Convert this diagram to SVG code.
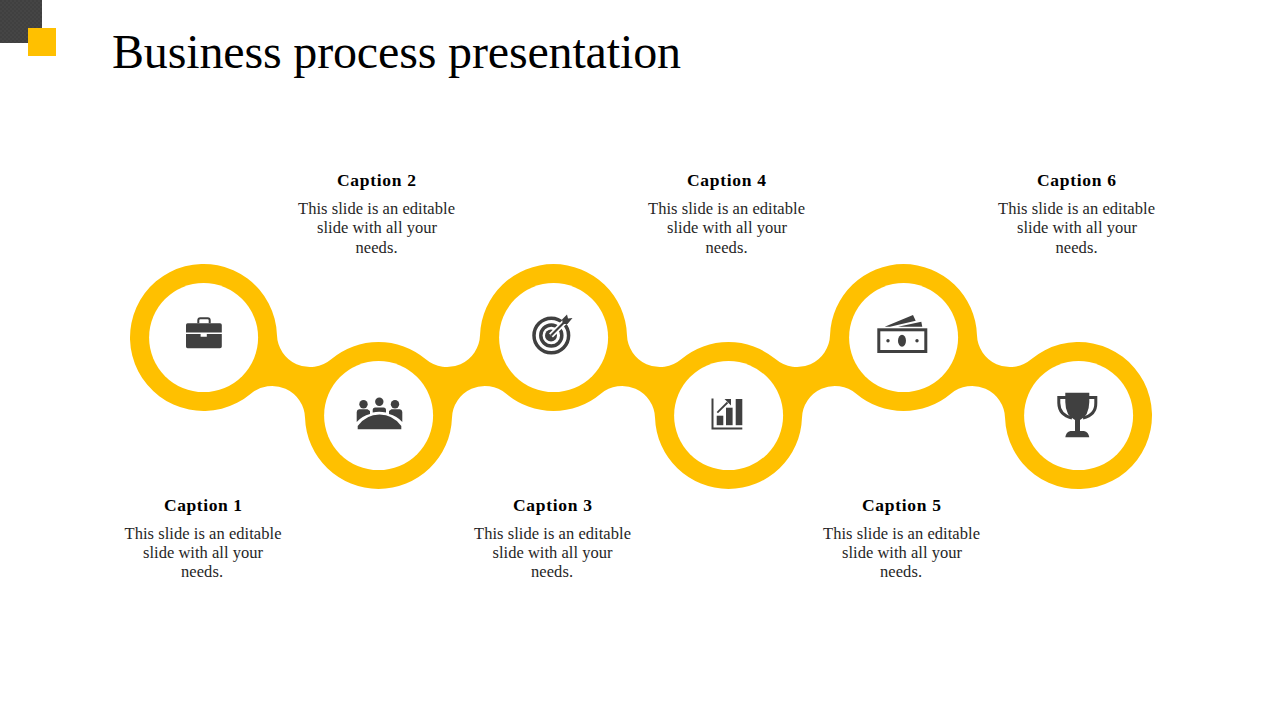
<svg xmlns="http://www.w3.org/2000/svg" width="1280" height="720" viewBox="0 0 1280 720">
<style>
text{font-family:"Liberation Serif","DejaVu Serif",serif;fill:#000;text-anchor:middle}
.t{font-size:48px;text-anchor:start}
.c{font-size:17.5px;font-weight:bold}
.b{font-size:16.5px;fill:#262626}
.w{fill:#fff}
.i{fill:#404040}
.s{fill:none;stroke:#404040}
</style>
<defs>
<pattern id="tex" width="4" height="4" patternUnits="userSpaceOnUse"><rect width="4" height="4" fill="#454545"/><circle cx="1" cy="1" r="0.8" fill="#383838"/><circle cx="3" cy="3" r="0.8" fill="#383838"/></pattern>
</defs>
<rect width="1280" height="720" fill="#fff"/>
<g id="decor"><rect x="0" y="0" width="42" height="43" fill="url(#tex)"/><rect x="28" y="28" width="28" height="28" fill="#FFC000"/></g>
<text class="t" x="112" y="68" textLength="569" lengthAdjust="spacing">Business process presentation</text>
<g id="connectors">
<path fill="#FFC000" d="M276.96 335.1A33 33 0 0 0 331.2 359.3A73.5 73.5 0 0 1 425.8 359.3A33 33 0 0 0 480.04 335.1A73.5 73.5 0 0 1 626.96 335.1A33 33 0 0 0 681.2 359.3A73.5 73.5 0 0 1 775.8 359.3A33 33 0 0 0 830.04 335.1A73.5 73.5 0 0 1 976.96 335.1A33 33 0 0 0 1031.2 359.3A73.5 73.5 0 1 1 1005.04 417.9A33 33 0 0 0 950.8 393.7A73.5 73.5 0 0 1 856.2 393.7A33 33 0 0 0 801.96 417.9A73.5 73.5 0 0 1 655.04 417.9A33 33 0 0 0 600.8 393.7A73.5 73.5 0 0 1 506.2 393.7A33 33 0 0 0 451.96 417.9A73.5 73.5 0 0 1 305.04 417.9A33 33 0 0 0 250.8 393.7A73.5 73.5 0 1 1 276.96 335.1Z"/>
</g>
<g id="node1">
<circle class="w" cx="203.6" cy="337.6" r="54.5"/>
<path class="i" d="M188 323.3H220a1.8 1.8 0 0 1 1.8 1.8V332.6H186V325.1a1.8 1.8 0 0 1 2-1.8ZM186 334H200.6V336.8H206.8V334H221.8V346.5a1.8 1.8 0 0 1-1.8 1.8H188a1.8 1.8 0 0 1-2-1.8Z"/>
<path class="s" stroke-width="2" d="M198.3 323.3V320.3a2 2 0 0 1 2-2H207.7a2 2 0 0 1 2 2V323.3"/>
<text class="c" x="203" y="511" textLength="78">Caption 1</text>
<text class="b" x="203" y="539" textLength="157">This slide is an editable</text>
<text class="b" x="203" y="558" textLength="120">slide with all your</text>
<text class="b" x="202" y="577" textLength="42">needs.</text>
</g>
<g id="node2">
<circle class="w" cx="378.6" cy="415.6" r="54.5"/>
<circle class="i" cx="363.5" cy="404.3" r="4.2"/><circle class="i" cx="379.3" cy="401.7" r="4.2"/><circle class="i" cx="395" cy="404.3" r="4.2"/>
<path class="i" d="M356.700 422V412a3 3 0 0 1 2.500-2.700H367.500L370 411V414Q362 416 356.700 422ZM372.700 412.500V410a2.500 2.500 0 0 1 2.500-2.500H383.500a2.500 2.500 0 0 1 2.500 2.500V412.500Q379 411 372.700 412.500ZM402.300 422V412a3 3 0 0 0-2.500-2.700H391.500L389 411V414Q397 416 402.300 422Z"/>
<path class="i" d="M357.700 429.300V426Q366 414.500 379.500 414.500T401.300 426V429.300Z"/>
<text class="c" x="376.500" y="186" textLength="79">Caption 2</text>
<text class="b" x="376.500" y="214" textLength="157">This slide is an editable</text>
<text class="b" x="377" y="233" textLength="120">slide with all your</text>
<text class="b" x="376.500" y="253" textLength="42">needs.</text>
</g>
<g id="node3">
<circle class="w" cx="553.600" cy="337.600" r="54.500"/>
<circle class="s" cx="551.300" cy="335.500" r="17.300" stroke-width="3.500"/>
<circle class="s" cx="551.300" cy="335.500" r="10.500" stroke-width="3.500"/>
<circle class="i" cx="551" cy="335.500" r="6"/>
<path d="M551 335.500L566 320.500" stroke="#fff" stroke-width="5.500" fill="none"/>
<path class="s" stroke-width="2.200" d="M551 335.500L566 320.500"/>
<path class="i" d="M562 319.500L567 314.500L568 318.500L572.500 318L567.500 324L563 324Z"/>
<text class="c" x="552.500" y="511" textLength="79">Caption 3</text>
<text class="b" x="552.500" y="539" textLength="157">This slide is an editable</text>
<text class="b" x="552.500" y="558" textLength="120">slide with all your</text>
<text class="b" x="552" y="577" textLength="42">needs.</text>
</g>
<g id="node4">
<circle class="w" cx="728.600" cy="415.600" r="54.500"/>
<path class="i" d="M711.500 398.500H713.500V427.500H742.300V429.500H711.500Z"/>
<rect class="i" x="716.700" y="415.700" width="6.600" height="9.500"/>
<rect class="i" x="726" y="407.700" width="6.600" height="17.500"/>
<rect class="i" x="735.700" y="399" width="6.600" height="26.200"/>
<path class="s" stroke-width="1.800" d="M717.300 412.700L727.500 402.500"/>
<path class="i" d="M724.500 399H731V405.500Z"/>
<text class="c" x="726.500" y="186" textLength="79">Caption 4</text>
<text class="b" x="726.500" y="214" textLength="157">This slide is an editable</text>
<text class="b" x="727" y="233" textLength="120">slide with all your</text>
<text class="b" x="726.500" y="253" textLength="42">needs.</text>
</g>
<g id="node5">
<circle class="w" cx="903.600" cy="337.600" r="54.500"/>
<path class="i" d="M884.700 326.700L913 315L915.700 320.700L890 326.700ZM898 326.700L921.300 321.700L922.300 326.700Z"/>
<rect class="s" x="878.800" y="329.800" width="47" height="21.700" stroke-width="3"/>
<ellipse class="i" cx="902" cy="340.700" rx="4" ry="6"/>
<circle class="i" cx="888" cy="340.700" r="1.700"/><circle class="i" cx="917" cy="340.700" r="1.700"/>
<text class="c" x="901.500" y="511" textLength="79">Caption 5</text>
<text class="b" x="901.500" y="539" textLength="157">This slide is an editable</text>
<text class="b" x="902" y="558" textLength="120">slide with all your</text>
<text class="b" x="901" y="577" textLength="42">needs.</text>
</g>
<g id="node6">
<circle class="w" cx="1078.600" cy="415.600" r="54.500"/>
<path class="s" stroke-width="3" d="M1066 397.500H1058.800V403Q1059 415 1072 418M1089 397.500H1095.800V403Q1096 415 1083 418"/>
<path class="i" d="M1065.300 392.700H1089.300V402Q1089 416 1080 420V431H1084Q1088.500 432 1089.300 437.300H1065.300Q1066 432 1070.500 431H1075V420Q1065.500 416 1065.300 402Z"/>
<text class="c" x="1076.500" y="186" textLength="79">Caption 6</text>
<text class="b" x="1076.500" y="214" textLength="157">This slide is an editable</text>
<text class="b" x="1077" y="233" textLength="120">slide with all your</text>
<text class="b" x="1076.500" y="253" textLength="42">needs.</text>
</g>
</svg>
